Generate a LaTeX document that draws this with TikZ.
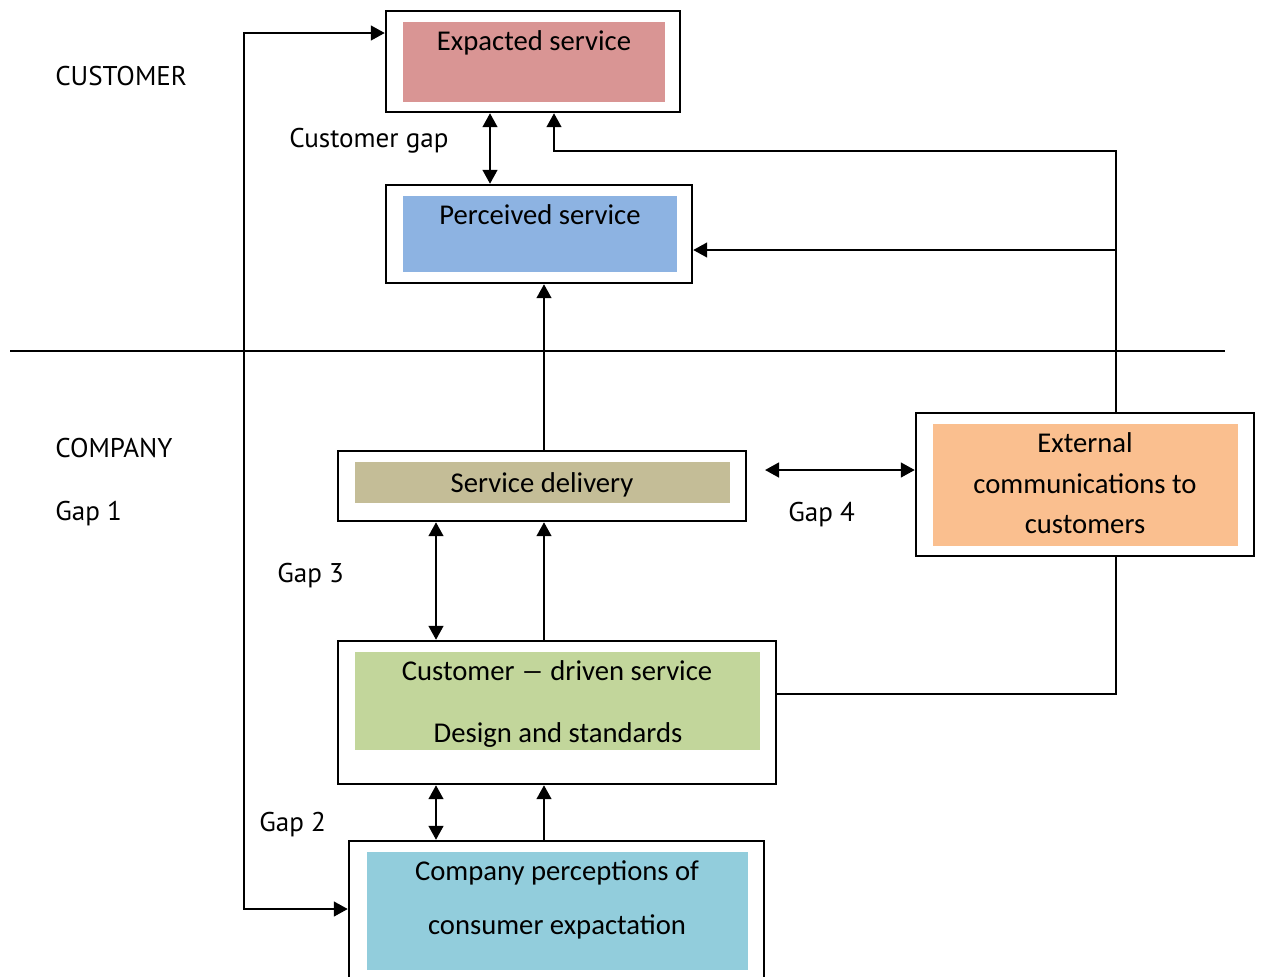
\documentclass[tikz,border=0pt]{standalone}
\usepackage{fontspec}
\setmainfont{Carlito}
\newfontfamily\lblfont{PT Sans}
\usetikzlibrary{arrows.meta,fit}
\definecolor{cexp}{HTML}{D99594}
\definecolor{cper}{HTML}{8DB3E2}
\definecolor{csd}{HTML}{C4BD97}
\definecolor{cext}{HTML}{FABF8F}
\definecolor{ccd}{HTML}{C2D69B}
\definecolor{ccp}{HTML}{92CDDC}
\begin{document}
\begin{tikzpicture}[x=0.75pt,y=-0.75pt,
  outerbox/.style={draw, line width=1.8pt, inner sep=0pt},
  innerbox/.style={draw=none, inner sep=0pt, fill=#1},
  boxtext/.style={anchor=base, inner sep=0pt, font=\fontsize{21.5}{25}\selectfont},
  lbl/.style={anchor=base west, inner sep=0pt, font=\lblfont\fontsize{20.3}{24}\selectfont},
  conn/.style={line width=1.8pt},
  arr/.style={conn, -{Triangle[length=10.5pt,width=11pt]}},
  dbl/.style={conn, {Triangle[length=10.5pt,width=11pt]}-{Triangle[length=10.5pt,width=11pt]}}]
\useasboundingbox (0,0) rectangle (1262,976);
% inner fills
\node[innerbox=cexp, fit={(403,22) (665,102)}] (expi) {};
\node[innerbox=cper, fit={(403,196) (677,272)}] (peri) {};
\node[innerbox=csd, fit={(355,462) (730,503)}] (sdi) {};
\node[innerbox=cext, fit={(933,424) (1238,546)}] (exti) {};
\node[innerbox=ccd, fit={(355,652) (760,750)}] (cdi) {};
\node[innerbox=ccp, fit={(367,852) (748,970)}] (cpi) {};
% outer boxes
\node[outerbox, fit={(386,11) (680,112)}] (exp) {};
\node[outerbox, fit={(386,185) (692,283)}] (per) {};
\node[outerbox, fit={(338,451) (746,521)}] (sd) {};
\node[outerbox, fit={(916,413) (1254,556)}] (ext) {};
\node[outerbox, fit={(338,641) (776,784)}] (cd) {};
\node[outerbox, fit={(349,841) (764,992)}] (cp) {};
% box texts
\node[boxtext] (t1) at (534,50) {Expacted service};
\node[boxtext] (t2) at (540,224) {Perceived service};
\node[boxtext] (t3) at (542,492) {Service delivery};
\node[boxtext] (t4) at (1085,452) {External};
\node[boxtext] (t5) at (1085,493) {communications to};
\node[boxtext] (t6) at (1085,533) {customers};
\node[boxtext] (t7) at (557,680) {Customer \scalebox{1.6}[1]{–} driven service};
\node[boxtext] (t8) at (558,742) {Design and standards};
\node[boxtext] (t9) at (557,880) {Company perceptions of};
\node[boxtext] (t10) at (557,934) {consumer expactation};
% labels
\node[lbl] (l1) at (55,85) {CUSTOMER};
\node[lbl] (l2) at (55,457) {COMPANY};
\node[lbl] (l3) at (55,520) {Gap 1};
\node[lbl] (l4) at (289,147) {Customer gap};
\node[lbl] (l5) at (277,582) {Gap 3};
\node[lbl] (l6) at (788,521) {Gap 4};
\node[lbl] (l7) at (259,831) {Gap 2};
% helper coordinates
\coordinate (L1) at (244,33);
\coordinate (L2) at (244,909);
\coordinate (X490) at (490,0);
\coordinate (X554) at (554,0);
\coordinate (X544) at (544,0);
\coordinate (X436) at (436,0);
\coordinate (X1116) at (1116,0);
\coordinate (X765) at (765,0);
\coordinate (Y151) at (0,151);
\coordinate (Y250) at (0,250);
\coordinate (Y470) at (0,470);
\coordinate (Y694) at (0,694);
\coordinate (S1) at (10,351);
\coordinate (S2) at (1225,351);
% separator
\draw[line width=1.4pt] (S1) -- (S2);
% connectors
\draw[dbl] (exp.west |- L1) -- (L1) -- (L2) -- (cp.west |- L2);
\draw[dbl] (exp.south -| X490) -- (per.north -| X490);
\draw[arr] (ext.north -| X1116) -- (X1116 |- Y151) -- (X554 |- Y151) -- (exp.south -| X554);
\draw[arr] (X1116 |- Y250) -- (per.east |- Y250);
\draw[arr] (sd.north -| X544) -- (per.south -| X544);
\draw[dbl] (X765 |- Y470) -- (ext.west |- Y470);
\draw[dbl] (sd.south -| X436) -- (cd.north -| X436);
\draw[arr] (cd.north -| X544) -- (sd.south -| X544);
\draw[dbl] (cd.south -| X436) -- (cp.north -| X436);
\draw[arr] (cp.north -| X544) -- (cd.south -| X544);
\draw[conn] (cd.east |- Y694) -- (X1116 |- Y694) -- (ext.south -| X1116);
\end{tikzpicture}
\end{document}
